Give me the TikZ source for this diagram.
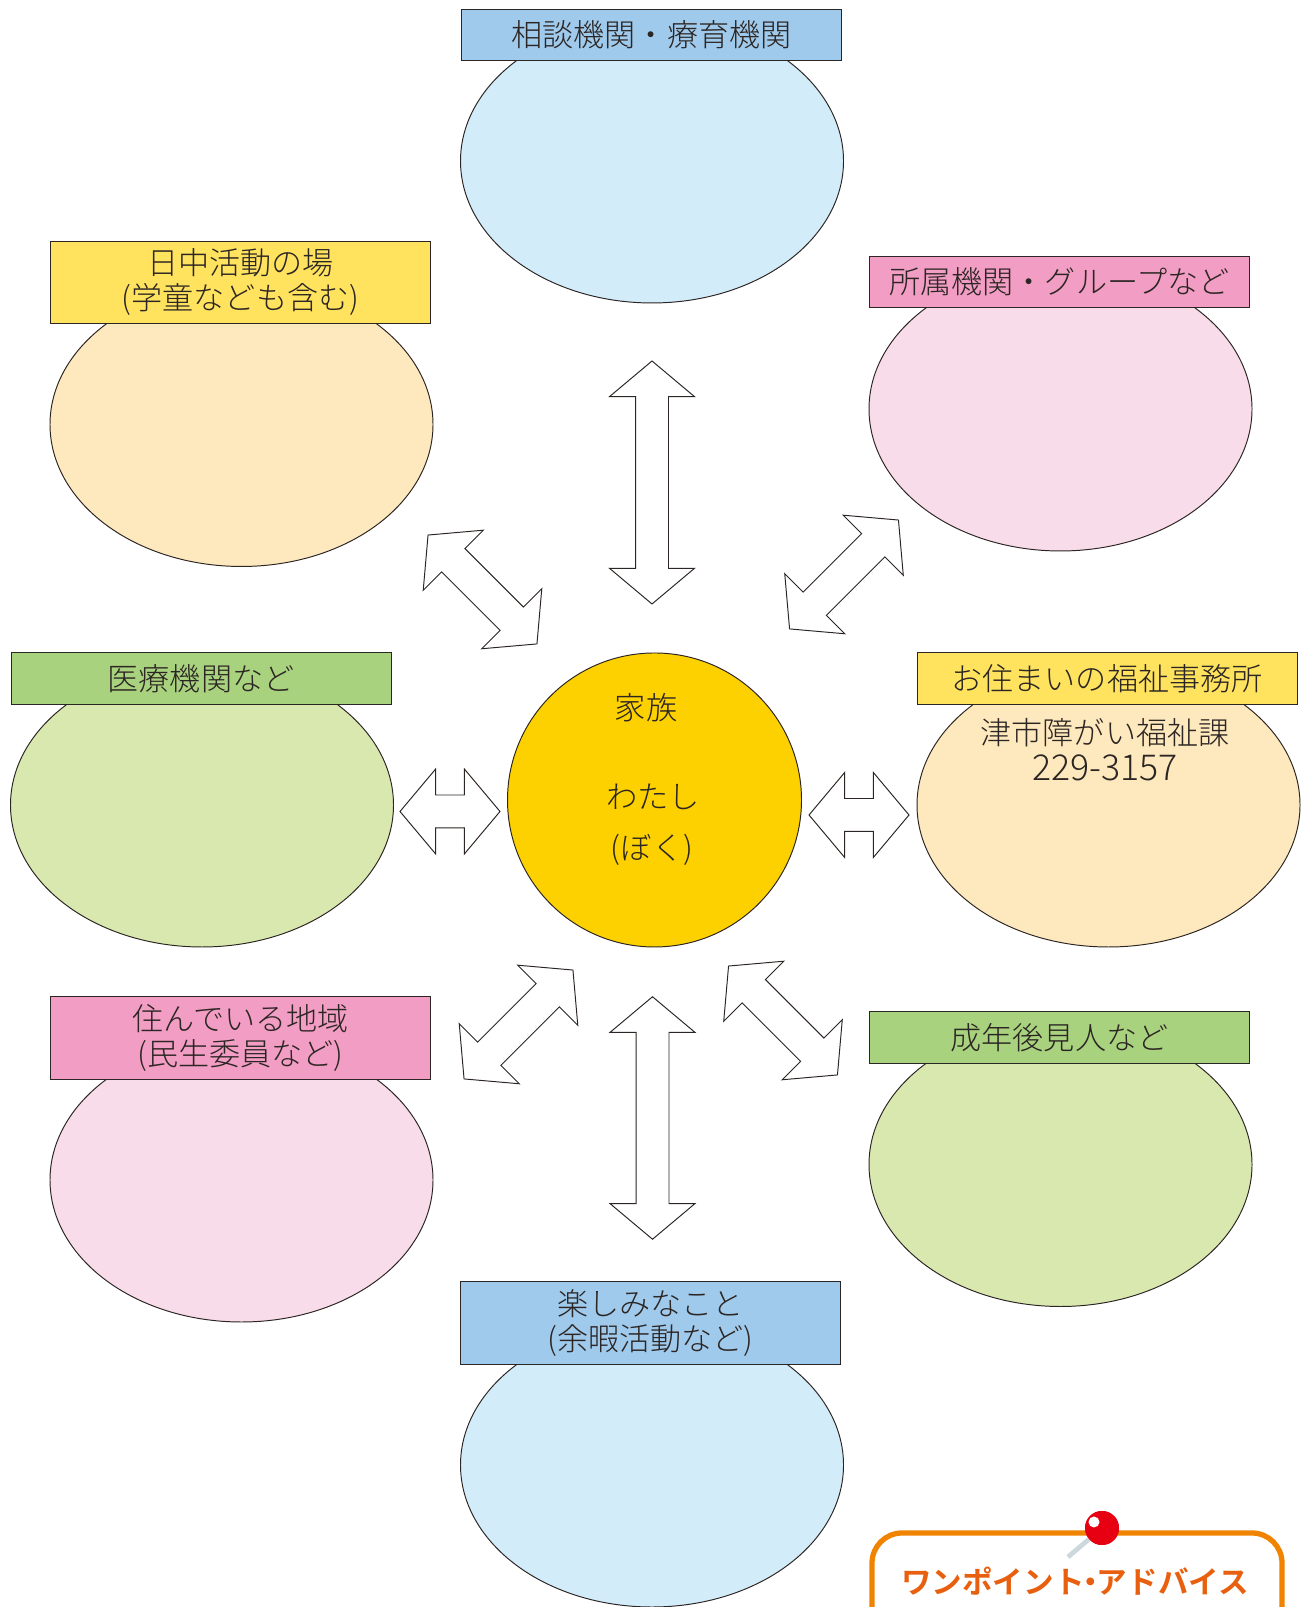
\documentclass[tikz,border=0pt]{standalone}
\usepackage{fontspec}
\setmainfont{Noto Sans CJK JP Light}[BoldFont={Noto Sans CJK JP Bold}]
\usetikzlibrary{shapes.geometric, shapes.arrows}
\definecolor{inkline}{HTML}{2B2523}
\definecolor{bluepale}{HTML}{D3ECFA}
\definecolor{bluetab}{HTML}{A0CAEC}
\definecolor{orangepale}{HTML}{FEE8BD}
\definecolor{yellowtab}{HTML}{FFE35F}
\definecolor{pinkpale}{HTML}{F9DCE9}
\definecolor{pinktab}{HTML}{F29DC3}
\definecolor{greenpale}{HTML}{D9E8AF}
\definecolor{greentab}{HTML}{A9D27F}
\definecolor{selfgold}{HTML}{FDD000}
\definecolor{cardline}{HTML}{F08300}
\definecolor{cardtext}{HTML}{E8600F}
\definecolor{pinred}{HTML}{E60012}
\definecolor{pinsteel}{HTML}{CDD8DE}
\tikzset{
    bubble/.style={draw=inkline, line width=.55pt, ellipse, minimum width=7.66cm, minimum height=5.68cm, inner sep=0, outer sep=0},
    tab/.style={draw=inkline, line width=.55pt, minimum width=7.6cm, minimum height=1.03cm, inner sep=0, align=center, text=inkline, font=\fontsize{17.7}{19.9}\selectfont},
    twotab/.style={tab, minimum height=1.65cm},
    bigarrow/.style={draw=inkline, line width=.55pt, fill=white, double arrow, double arrow tip angle=100, double arrow head extend=.52cm, minimum width=1.68cm, inner xsep=0, inner ysep=.32cm, outer sep=0},
    bodytext/.style={text=inkline, inner sep=0, font=\fontsize{17.8}{19}\selectfont},
    plaintext/.style={text=inkline, inner sep=0, font=\fontsize{17.7}{19.9}\selectfont},
}
\begin{document}
\begin{tikzpicture}
    \useasboundingbox (0, 0) rectangle (26, 32.14);
    \node [bubble, fill=bluepale] (counsel) at (13.04, 28.92) {};
    \node [bubble, fill=orangepale] (daytime) at (4.83, 23.65) {};
    \node [bubble, fill=pinkpale] (group) at (21.21, 23.96) {};
    \node [bubble, fill=greenpale] (medical) at (4.04, 16.04) {};
    \node [bubble, fill=orangepale] (welfare) at (22.17, 16.04) {};
    \node [bubble, fill=pinkpale] (local) at (4.83, 8.54) {};
    \node [bubble, fill=greenpale] (guardian) at (21.21, 8.85) {};
    \node [bubble, fill=bluepale] (leisure) at (13.04, 2.84) {};

    \node [tab, fill=bluetab] (counseltab) at (13.03, 31.44) {相談機関・療育機関};
    \node [twotab, fill=yellowtab] (daytimetab) at (4.81, 26.49) {日中活動の場\\(学童なども含む)};
    \node [tab, fill=pinktab] (grouptab) at (21.19, 26.5) {所属機関・グループなど};
    \node [tab, fill=greentab] (medicaltab) at (4.02, 18.57) {医療機関など};
    \node [tab, fill=yellowtab] (welfaretab) at (22.14, 18.57) {お住まいの福祉事務所};
    \node [twotab, fill=pinktab] (localtab) at (4.81, 11.38) {住んでいる地域\\(民生委員など)};
    \node [tab, fill=greentab] (guardiantab) at (21.19, 11.39) {成年後見人など};
    \node [twotab, fill=bluetab] (leisuretab) at (13.01, 5.68) {楽しみなこと\\(余暇活動など)};

    \node [plaintext] (office) at (22.1, 17.48) {津市障がい福祉課};
    \node [plaintext, font=\fontsize{20.3}{22}\selectfont] (phone) at (22.1, 16.78) {229-3157};

    \node [draw=inkline, line width=.55pt, fill=selfgold, circle, minimum size=5.88cm, inner sep=0] (self) at (13.09, 16.14) {};
    \node [bodytext] (family) at (12.92, 17.99) {家族};
    \node [bodytext] (me) at (13.06, 16.2) {わたし};
    \node [bodytext] (boy) at (13.04, 15.14) {(ぼく)};

    \node [bigarrow, rotate=90, minimum height=4.86cm] (arrowtop) at (13.04, 22.49) {};
    \node [bigarrow, rotate=90, minimum height=4.85cm] (arrowbottom) at (13.05, 9.78) {};
    \node [bigarrow, minimum height=2cm] (arrowleft) at (9, 15.91) {};
    \node [bigarrow, minimum height=2cm] (arrowright) at (17.18, 15.84) {};
    \node [bigarrow, rotate=-45, minimum height=3.08cm] (arrowul) at (9.65, 20.35) {};
    \node [bigarrow, rotate=45, minimum height=3.08cm] (arrowur) at (16.88, 20.65) {};
    \node [bigarrow, rotate=45, minimum height=3.08cm] (arrowll) at (10.37, 11.65) {};
    \node [bigarrow, rotate=-45, minimum height=3.08cm] (arrowlr) at (15.66, 11.73) {};

    \draw [cardline, line width=3pt, rounded corners=.6cm] (17.44, 0) -- (17.44, 1.48) -- (25.64, 1.48) -- (25.64, 0);
    \node [text=cardtext, inner sep=0, font=\fontsize{17.4}{19}\selectfont\bfseries] (advice) at (21.5, .52) {ワンポイント\hspace{-.3em}・\hspace{-.3em}アドバイス};
    \coordinate (pinend) at (21.36, 1);
    \node [fill=pinred, circle, minimum size=.68cm, inner sep=0] (pin) at (22.04, 1.58) {};
    \draw [pinsteel, line width=2.7pt] (pinend) -- (pin);
    \node [fill=pinred, circle, minimum size=.68cm, inner sep=0] (pinhead) at (pin) {};
    \node [fill=white, circle, minimum size=.22cm, inner sep=0] (pinshine) at (21.88, 1.7) {};
\end{tikzpicture}
\end{document}
